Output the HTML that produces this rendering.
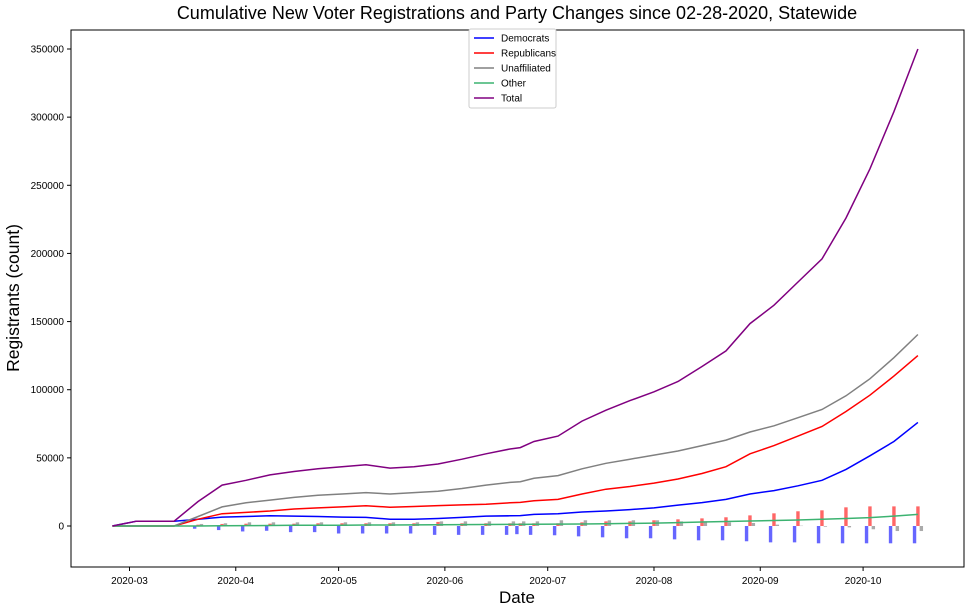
<!DOCTYPE html>
<html><head><meta charset="utf-8"><style>
body{margin:0;background:#fff;}
svg{font-family:"Liberation Sans",sans-serif;}
</style></head><body>
<svg id="chart" width="970" height="611"></svg>
<script>
const dates=[-5,2,13,20,27,34,41,48,55,62,69,76,83,90,97,104,111,114,118,125,132,139,146,153,160,167,174,181,188,195,202,209,216,223,230];
const democrats=[0,3500,3500,5000,6500,7000,7500,7300,7000,6500,6300,5000,5000,5500,6300,7300,7500,7600,8500,9000,10300,11000,12000,13300,15300,17200,19500,23500,26000,29500,33500,41500,51500,62000,76000];
const republicans=[0,0,0,5000,9000,10000,11000,12500,13300,14000,14800,13800,14300,15000,15500,16000,17000,17300,18500,19500,23500,27000,29000,31500,34500,38500,43500,53000,59000,66000,73000,84000,96000,110000,125000];
const unaffiliated=[0,0,0,7000,14000,17000,19000,21000,22500,23500,24500,23500,24500,25500,27500,30000,32000,32500,35000,37000,42000,46000,49000,52000,55000,59000,63000,69000,73500,79500,85500,95500,108000,123500,140500];
const other=[0,0,0,0,200,300,400,500,600,600,700,700,800,900,1000,1100,1200,1200,1300,1400,1500,1700,1900,2100,2500,2900,3300,3700,4000,4400,4900,5500,6200,7300,8500];
const total=[0,3500,3500,18000,30000,33500,37500,40000,42000,43500,45000,42500,43500,45500,49000,53000,56500,57500,62000,66000,77000,85000,92000,98500,106000,117000,128500,148500,162000,179000,196000,226000,262000,304000,350000];
const barDates=[20,27,34,41,48,55,62,69,76,83,90,97,104,111,114,118,125,132,139,146,153,160,167,174,181,188,195,202,209,216,223,230];
const demChange=[-2000,-3000,-4000,-3500,-4500,-4500,-5500,-5500,-5500,-5500,-6500,-6500,-6500,-6500,-6000,-6500,-6800,-7600,-8300,-9000,-9000,-9800,-10500,-10500,-11200,-12000,-12000,-12700,-12700,-12700,-12700,-12700];
const repChange=[1000,1500,1700,1700,1700,2000,2000,2000,2000,2000,3000,2000,2000,2000,2000,2000,2000,2700,3400,3400,4200,4900,5600,6400,7800,9300,10800,11500,13700,14400,14400,14400];
const unaChange=[1500,2000,2700,2700,2700,2700,2700,2700,2700,2700,3400,3400,3400,3400,3400,3400,4200,4200,4200,4200,4200,3400,3400,2700,2200,1000,200,-500,-1000,-2400,-3700,-3700];
const yTicks=[0,50000,100000,150000,200000,250000,300000,350000];
const xTickDays=[0,31,61,92,122,153,184,214];
const xTickLabels=["2020-03","2020-04","2020-05","2020-06","2020-07","2020-08","2020-09","2020-10"];

const NS="http://www.w3.org/2000/svg";
const svg=document.getElementById('chart');
const L=71,R=964,T=30,B=567;
const x=d=>129.5+d*3.428;
const y=v=>526-v*477/350000;
function el(tag,attrs,parent){const e=document.createElementNS(NS,tag);for(const k in attrs)e.setAttribute(k,attrs[k]);(parent||svg).appendChild(e);return e;}

const title=el('text',{x:517,y:19,'text-anchor':'middle','font-size':18});
title.textContent="Cumulative New Voter Registrations and Party Changes since 02-28-2020, Statewide";



const barW=3.4;
const barSets=[[demChange,'#6666ff',-3.4,'bar-democrats-change'],[repChange,'#ff6666',0,'bar-republicans-change'],[unaChange,'#aaaaaa',3.4,'bar-unaffiliated-change']];
barSets.forEach(([vals,col,off,name])=>{
  vals.forEach((v,i)=>{
    const cx=x(barDates[i])+off;
    const y1=y(Math.max(v,0)),y2=y(Math.min(v,0));
    const r=el('rect',{x:cx-barW/2,y:y1,width:barW,height:Math.max(y2-y1,0.3),fill:col});
    
    
  });
});

const series=[[democrats,'#0000ff','line-democrats'],[republicans,'#ff0000','line-republicans'],[unaffiliated,'#808080','line-unaffiliated'],[other,'#3cb371','line-other'],[total,'#800080','line-total']];
series.forEach(([vals,col,name])=>{
  const p=el('polyline',{points:vals.map((v,i)=>x(dates[i]).toFixed(1)+','+y(v).toFixed(1)).join(' '),fill:'none',stroke:col,'stroke-width':1.5});
  
  
});

const frame=el('rect',{x:L,y:T,width:R-L,height:B-T,fill:'none',stroke:'#000','stroke-width':1});



yTicks.forEach(v=>{
  const ln=el('line',{x1:L-4,x2:L,y1:y(v),y2:y(v),stroke:'#000'});
  
  
  const t=el('text',{x:L-7,y:y(v)+3.5,'text-anchor':'end','font-size':10});
  t.textContent=v;
  
  
});
xTickDays.forEach((d,i)=>{
  const ln=el('line',{x1:x(d),x2:x(d),y1:B,y2:B+4,stroke:'#000'});
  
  
  const t=el('text',{x:x(d),y:B+17,'text-anchor':'middle','font-size':10});
  t.textContent=xTickLabels[i];
  
  
});
const xl=el('text',{x:517,y:603,'text-anchor':'middle','font-size':17});
xl.textContent="Date";


const yl=el('text',{x:0,y:0,'text-anchor':'middle','font-size':17.5,transform:'translate(19,298) rotate(-90)'});
yl.textContent="Registrants (count)";



const lg=el('g',{});


el('rect',{x:469,y:29,width:87,height:79,fill:'#fff',stroke:'#ccc',rx:2},lg);
const names=['Democrats','Republicans','Unaffiliated','Other','Total'];
series.forEach((s,i)=>{
  const yy=38+i*15;
  const ln=el('line',{x1:474,x2:494,y1:yy,y2:yy,stroke:s[1],'stroke-width':1.5},lg);
  
  
  const t=el('text',{x:501,y:yy+3.5,'font-size':10},lg);
  t.textContent=names[i];
  
  
});
</script>
</body></html>
